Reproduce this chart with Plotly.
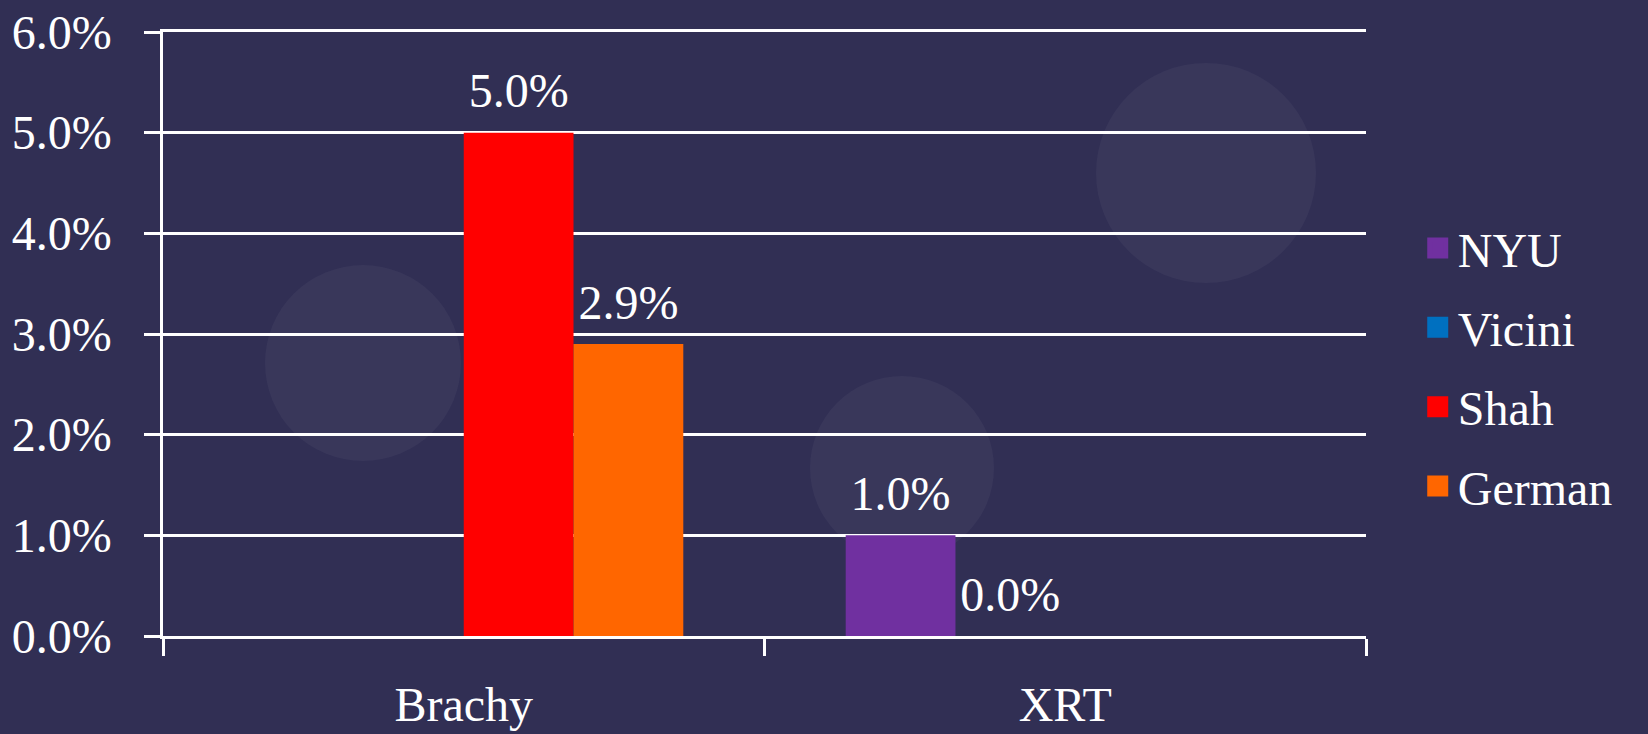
import plotly.graph_objects as go

categories = ["Brachy", "XRT"]
series_names = ["NYU", "Vicini", "Shah", "German"]
series_colors = ["#7030A0", "#0070C0", "#FF0000", "#FF6600"]
nyu = [None, 0.010]
vicini = [None, 0.000]
shah = [0.050, None]
german = [0.029, None]
series_values = [nyu, vicini, shah, german]

y_ticks = [0, 0.01, 0.02, 0.03, 0.04, 0.05, 0.06]

FONT = "Palatino Linotype, Book Antiqua, Palatino, Liberation Serif, serif"
W, H = 1648, 734
ML, MR, MT, MB = 163, 282, 32, 98
GAP = 0.27
BG = "#312f54"

fig = go.Figure()
# bars
for name, color, vals in zip(series_names, series_colors, series_values):
    fig.add_trace(go.Bar(
        name=name, x=categories, y=vals,
        marker=dict(color=color, line=dict(width=0)),
        showlegend=False, hoverinfo="skip",
    ))
# value labels, grouped like the bars
for name, vals in zip(series_names, series_values):
    fig.add_trace(go.Scatter(
        name=name, x=categories, y=vals, mode="markers+text",
        marker=dict(size=20, opacity=0),
        texttemplate="%{y:.1%}", textposition="top center",
        textfont=dict(color="white", size=48, family=FONT),
        cliponaxis=False, showlegend=False, hoverinfo="skip",
    ))
# legend entries (on a hidden overlay axis so they don't disturb grouping)
for name, color in zip(series_names, series_colors):
    fig.add_trace(go.Scatter(
        name=name, x=[None], y=[None], mode="markers", legendgroup=name,
        marker=dict(symbol="square", size=16, color=color,
                    line=dict(width=5, color=color)),
        xaxis="x2", yaxis="y2",
    ))

# faint decorative circles of the slide background
pw, ph = W - ML - MR, H - MT - MB
def circ(cx, cy, r):
    return dict(type="circle", xref="paper", yref="paper", layer="below",
                x0=(cx - r - ML) / pw, x1=(cx + r - ML) / pw,
                y0=(H - MB - (cy + r)) / ph, y1=(H - MB - (cy - r)) / ph,
                fillcolor="rgba(255,255,255,0.04)", line=dict(width=0))
shapes = [circ(363, 363, 98), circ(1206, 173, 110), circ(902, 468, 92)]

tickfont = dict(size=48, color="white", family=FONT)
fig.update_layout(
    width=W, height=H,
    margin=dict(l=ML, r=MR, t=MT, b=MB, autoexpand=False),
    paper_bgcolor=BG, plot_bgcolor="rgba(0,0,0,0)",
    font=dict(family=FONT, color="white", size=48),
    barmode="group", bargap=GAP, bargroupgap=0,
    scattermode="group", scattergap=GAP,
    shapes=shapes,
    legend=dict(x=1.043, xanchor="left", y=0.445, yanchor="middle",
                font=dict(size=48, color="white", family=FONT),
                traceorder="grouped", tracegroupgap=14,
                bgcolor="rgba(0,0,0,0)", itemwidth=30),
    xaxis=dict(
        type="category", showline=True, mirror=True, linecolor="white", linewidth=2.5,
        ticks="outside", ticklen=17, tickwidth=2.5, tickcolor="white",
        tickson="boundaries", showgrid=False, zeroline=False, automargin=False,
        tickfont=tickfont, ticklabelstandoff=25,
    ),
    yaxis=dict(
        range=[0, 0.06], tickvals=y_ticks, tickformat=".1%",
        showline=True, linecolor="white", linewidth=2.5,
        ticks="outside", ticklen=16, tickwidth=2.5, tickcolor="white",
        showgrid=True, gridcolor="white", gridwidth=2.5, zeroline=False, automargin=False,
        tickfont=tickfont, ticklabelstandoff=23,
    ),
    xaxis2=dict(overlaying="x", visible=False, range=[0, 1]),
    yaxis2=dict(overlaying="y", visible=False, range=[0, 1]),
)
fig.write_html("out.html", config={"displayModeBar": False},
               post_script=f"document.body.style.margin='0';document.body.style.background='{BG}';")
